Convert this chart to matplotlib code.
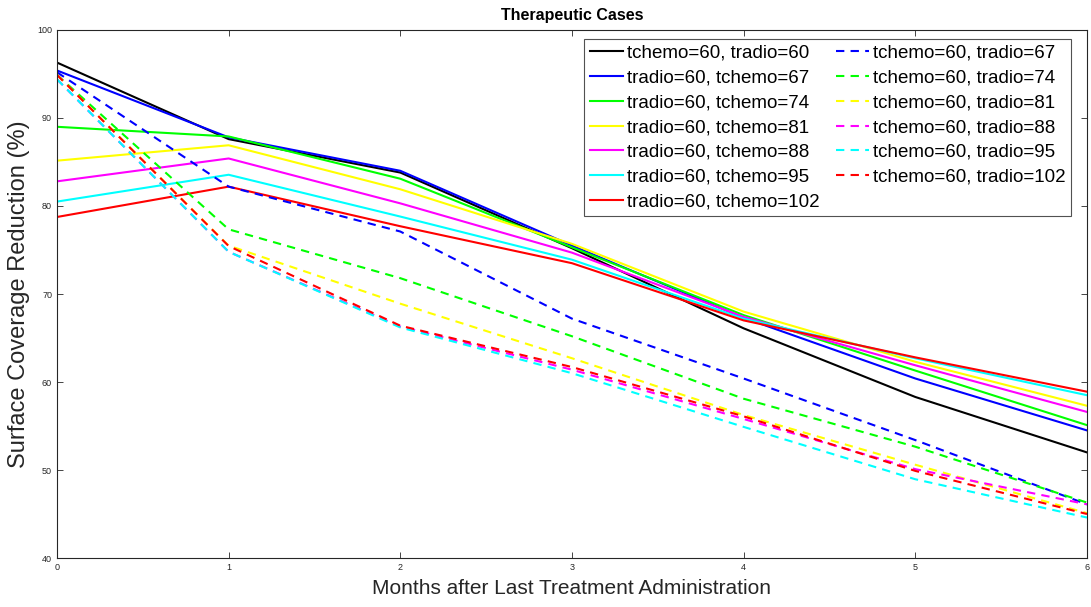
import numpy as np
import matplotlib
matplotlib.use('Agg')
import matplotlib.pyplot as plt

plt.rcParams['font.family'] = ['Liberation Sans', 'DejaVu Sans']

# miesiace po ostatnim podaniu leku
months = [0, 1, 2, 3, 4, 5, 6]

# zmiana tchemo przy tradio=60 (linie ciagle)
solid_labels = ['tchemo=60, tradio=60', 'tradio=60, tchemo=67', 'tradio=60, tchemo=74',
                'tradio=60, tchemo=81', 'tradio=60, tchemo=88', 'tradio=60, tchemo=95',
                'tradio=60, tchemo=102']
solid_colors = ['#000000', '#0000ff', '#00ff00', '#ffff00', '#ff00ff', '#00ffff', '#ff0000']
solid_vals = [
    [96.3, 87.6, 83.8, 75.2, 66.1, 58.3, 52.0],
    [95.4, 87.8, 84.0, 75.5, 67.3, 60.4, 54.5],
    [89.0, 87.9, 83.1, 75.3, 67.6, 61.3, 55.1],
    [85.15, 86.9, 81.9, 75.7, 68.0, 62.3, 57.3],
    [82.8, 85.4, 80.3, 74.7, 67.4, 61.9, 56.6],
    [80.5, 83.55, 78.8, 73.9, 67.2, 62.7, 58.5],
    [78.75, 82.2, 77.7, 73.5, 67.0, 62.8, 58.9],
]

# zmiana tradio przy tchemo=60 (linie przerywane)
dashed_labels = ['tchemo=60, tradio=67', 'tchemo=60, tradio=74', 'tchemo=60, tradio=81',
                 'tchemo=60, tradio=88', 'tchemo=60, tradio=95', 'tchemo=60, tradio=102']
dashed_colors = ['#0000ff', '#00ff00', '#ffff00', '#ff00ff', '#00ffff', '#ff0000']
dashed_vals = [
    [95.2, 82.2, 77.1, 67.2, 60.4, 53.4, 46.1],
    [94.9, 77.35, 71.8, 65.2, 58.1, 52.65, 46.3],
    [94.9, 75.5, 68.9, 62.7, 56.25, 50.6, 45.1],
    [94.4, 74.8, 66.3, 61.4, 55.8, 50.1, 46.1],
    [94.4, 74.8, 66.2, 61.0, 54.9, 48.95, 44.6],
    [94.9, 75.45, 66.4, 61.7, 56.1, 49.9, 45.0],
]

fig = plt.figure(figsize=(10.91, 6.07), dpi=100)
ax = fig.add_axes([0.0522, 0.0807, 0.9441, 0.8699])

for vals, col, lab in zip(solid_vals, solid_colors, solid_labels):
    ax.plot(months, vals, color=col, lw=1.5, label=lab)
for vals, col, lab in zip(dashed_vals, dashed_colors, dashed_labels):
    ax.plot(months, vals, color=col, lw=1.5, ls=(0, (4, 3)), label=lab)

ax.set_xlim(0, 6)
ax.set_ylim(40, 100)
ax.set_xticks(months)
ax.set_yticks(np.arange(40, 101, 10))
ax.tick_params(direction='in', top=True, right=True, labelsize=6.5, colors='#262626',
               length=4, width=0.6)
for s in ax.spines.values():
    s.set_color('#262626')
    s.set_linewidth(0.8)

ax.set_title('Therapeutic Cases', fontsize=11.5, fontweight='bold', pad=7)
ax.set_xlabel('Months after Last Treatment Administration', fontsize=15, color='#262626', labelpad=5)
ax.set_ylabel('Surface Coverage Reduction (%)', fontsize=17, color='#262626', labelpad=5)

leg = ax.legend(ncol=2, loc='upper right', fontsize=13.5, frameon=True, fancybox=False,
                edgecolor='#262626', handlelength=1.75, handletextpad=0.2, columnspacing=0.9,
                labelspacing=0.41, borderpad=0.3, borderaxespad=0,
                bbox_to_anchor=(0.9845, 0.983))
leg.get_frame().set_linewidth(0.8)

fig.savefig('out.png', dpi=100)
